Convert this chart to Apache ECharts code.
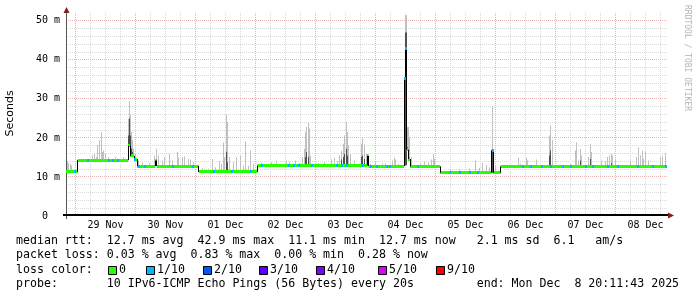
<!DOCTYPE html>
<html><head><meta charset="utf-8">
<script src="https://cdn.jsdelivr.net/npm/echarts@6/dist/echarts.min.js"></script>
<style>html,body{margin:0;padding:0;background:#fff}#c{width:697px;height:297px}</style>
</head><body><div id="c"></div>
<script>
// ---- data (hours measured from 29 Nov 00:00) ----
const startHour = -3.8, endHour = 236.2;
const dayLabels = ['29 Nov','30 Nov','01 Dec','02 Dec','03 Dec','04 Dec','05 Dec','06 Dec','07 Dec','08 Dec'];
const dayNoonHours = [12,36,60,84,108,132,156,180,204,228];
const yTickValues = [0,10,20,30,40,50];
const yTickLabels = ['0  ','10 m','20 m','30 m','40 m','50 m'];

// median rtt (ms) as steps: [start hour, value]
const medianSteps = [
 [-3.8,11.3],[0.9,14.3],[21.0,18.0],[21.8,15.4],[23.4,14.6],[24.6,12.8],
 [31.9,14.2],[32.5,12.8],[49.3,11.3],[72.7,12.9],[116.6,15.4],[117.2,12.8],
 [131.4,35.3],[131.8,42.9],[132.4,17.0],[133.0,14.6],[133.8,12.7],
 [145.8,11.1],[166.4,16.8],[167.0,11.1],[170.1,12.7]
];
// packet loss marks: [hour, lost pings out of 10]
const lossMarks = [
 [-0.4,1],[4.7,1],[13.0,1],[14.7,1],[16.7,1],[23.6,1],[25.1,1],[27.4,1],[38.7,1],[46.7,1],[55.0,1],
 [62.4,1],[69.8,1],[74.2,1],[85.1,1],[87.1,1],[89.1,1],[94.4,1],[104.4,1],[106.2,1],[108.4,1],
 [114.7,1],[117.8,1],[120.4,1],[124.2,1],[125.5,1],[131.5,1],[132.0,1],[136.8,1],[149.5,1],
 [153.5,1],[157.5,1],[160.8,1],[166.6,1],[178.8,1],[181.9,1],[186.2,1],[189.9,1],[194.8,1],
 [197.9,1],[203.9,1],[206.6,1],[212.6,1],[216.6,1],[224.6,1],[230.6,1],[235.8,1]
];
// smoke: [hour, highest ping ms, dense-smoke top ms (0 = none), lowest ping ms (optional)]
const smoke = [
 [-3.3,14.0,0],[-2.9,13.6,0],[-2.2,13.4,0],[-1.7,13.0,0],
 [6.7,15.5,0],[7.6,15.9,0],[8.3,15.1,0],[8.9,18.1,0],[9.6,19.4,0],[10.4,21.5,0],[10.9,16.4,0],[11.3,16.8,0],[12.0,15.9,0],[13.3,15.1,0],[16.0,15.1,0],[19.3,15.1,0],
 [21.1,24.9,20.6],[21.5,29.4,24.9],[21.9,25.8,20.6],[22.3,21.5,17.2],[22.7,19.4,16.4],[23.3,17.2,15.1],[24.0,15.9,0],[25.1,14.2,0],[26.7,13.6,0],[29.6,13.6,0],
 [31.7,15.5,0],[32.4,17.2,14.5],[33.1,15.5,0],[34.7,14.2,0],[35.7,15.1,0],[37.6,15.9,0],[38.7,14.2,0],[40.7,16.4,0],[41.3,14.9,0],[42.7,15.1,0],[43.7,15.3,0],[45.1,14.6,0],[46.0,14.5,0],[47.3,13.8,0],
 [50.9,12.3,0],[53.3,12.1,0],[54.7,14.6,0],[56.0,12.5,0],[57.6,14.0,0],[58.4,13.4,0],
 [59.1,18.8,0],[59.7,15.1,0],[60.3,25.9,16.4],[60.8,24.1,13.8],[61.5,15.1,0],[63.1,13.8,0],[64.4,15.1,0],[66.1,15.5,0],[67.1,12.9,0],[68.1,19.1,0],[69.1,12.9,0],[70.0,16.8,0],[71.1,13.4,0],
 [74.4,13.6,0],[78.4,13.8,0],[80.4,14.2,0],[84.4,14.2,0],[85.7,13.8,0],[88.0,14.2,0],[89.7,13.6,0],[90.7,15.1,0],[91.5,17.2,0],[92.0,21.5,15.1],[92.5,22.8,16.4],[93.1,23.9,15.1],[93.6,22.4,0],[94.1,15.5,0],
 [97.1,13.6,0],[99.7,13.8,0],[102.4,14.5,0],[103.7,14.9,0],[104.8,14.0,0],[105.7,15.5,0],[106.4,16.8,14.5],[107.2,18.5,15.1],[107.7,20.6,15.9],[108.3,24.2,17.2],[108.8,21.5,15.5],[109.3,18.1,0],[110.1,15.9,0],[111.7,14.2,0],
 [114.4,18.5,15.1],[114.9,19.9,15.5],[115.5,18.3,14.6],[116.3,15.9,0],[118.1,13.4,0],[119.7,13.1,0],
 [120.1,14.0,0],[122.8,13.4,0],[124.1,13.6,0],[126.8,14.2,0],[127.5,14.9,0],[128.1,14.5,0],[129.1,13.4,0],
 [131.5,35.3,35.3,13.0],[131.9,51.4,47.0,13.0],[132.3,51.4,47.0,13.0],[132.7,22.8,17.6],[133.1,22.8,16.4],[133.5,20.2,14.2],[134.4,15.1,0],
 [138.1,13.6,0],[139.5,14.0,0],[141.2,13.8,0],[142.4,14.5,0],[143.2,15.9,0],[143.7,14.6,0],
 [150.1,12.1,0],[153.5,11.9,0],[157.5,12.1,0],[159.9,14.2,0],[161.5,12.3,0],[162.8,13.6,0],[164.5,13.1,0],[165.5,12.5,0],
 [166.6,28.1,16.8,11.1],[168.1,12.9,0],[172.8,13.1,0],[177.1,14.9,0],[178.1,13.4,0],
 [180.3,14.9,0],[180.8,14.2,0],[184.5,14.5,0],[189.6,20.6,15.5],[190.1,23.2,16.8],[190.7,19.4,0],[193.9,13.1,0],[197.9,13.3,0],[199.9,16.8,0],[200.4,18.9,0],[201.2,14.2,0],[202.1,17.2,14.2],[202.5,15.5,0],
 [205.2,15.1,0],[205.9,18.5,14.6],[206.4,16.4,0],[208.5,13.1,0],[210.5,14.2,0],[211.9,14.0,0],[212.8,15.1,0],[213.6,15.5,0],[214.4,15.9,13.5],[214.9,15.5,0],[215.9,14.5,0],[217.9,12.9,0],
 [221.9,14.2,0],[224.5,15.1,0],[225.2,17.6,0],[225.9,15.5,0],[226.7,16.8,0],[227.2,14.6,0],[227.9,16.6,0],[229.2,14.2,0],[233.9,15.1,0],[234.9,15.3,0],[235.8,16.1,0]
];
const lossLegendLabels = ['0','1/10','2/10','3/10','4/10','5/10','9/10'];
const lossLegendKeys = [0,1,2,3,4,5,9];
const legendLines = [
 'median rtt:  12.7 ms avg  42.9 ms max  11.1 ms min  12.7 ms now   2.1 ms sd  6.1   am/s',
 'packet loss: 0.03 % avg  0.83 % max  0.00 % min  0.28 % now',
 'loss color:',
 'probe:       10 IPv6-ICMP Echo Pings (56 Bytes) every 20s         end: Mon Dec  8 20:11:43 2025'
];

// ---- styles ----
const lossColors = {0:'#26ff00',1:'#00b8ff',2:'#0059ff',3:'#5e00ff',4:'#7e00ff',5:'#dd00ff',9:'#ff0000'};
const MAJOR = '#eab4b4', MINOR = '#dadada';
const SMOKE_LIGHT = '#c0c0c0', SMOKE_DARK = '#505050';
const MONO = '"DejaVu Sans Mono", monospace';

function medianAt(h) {
  let v = medianSteps[0][1];
  for (const s of medianSteps) { if (s[0] <= h) v = s[1]; else break; }
  return v;
}

function renderGrid(params, api) {
  const ch = [];
  const top = api.coord([startHour, 52])[1], bottom = api.coord([startHour, 0])[1];
  const left = api.coord([startHour, 0])[0], right = api.coord([endHour, 0])[0];
  for (let h = 0; h <= endHour; h += 6) {
    const x = Math.floor(api.coord([h, 0])[0]) + 0.5;
    const major = h % 24 === 0;
    ch.push({type:'line', z2: major ? 2 : 1, shape:{x1:x, y1:top, x2:x, y2:bottom},
      style:{stroke: major ? MAJOR : MINOR, lineWidth:1, lineDash:[1,1]}});
  }
  for (let v = 2; v <= 50; v += 2) {
    const y = Math.floor(api.coord([0, v])[1]) + 0.5;
    const major = v % 10 === 0;
    ch.push({type:'line', z2: major ? 2 : 1, shape:{x1:left, y1:y, x2:right + 2, y2:y},
      style:{stroke: major ? MAJOR : MINOR, lineWidth:1, lineDash:[1,1]}});
  }
  // axis lines
  const xa = Math.floor(left) + 0.5;
  ch.push({type:'line', z2:5, shape:{x1:xa, y1:top - 1, x2:xa, y2:bottom + 3}, style:{stroke:'#555', lineWidth:1}});
  ch.push({type:'line', z2:5, shape:{x1:left - 3, y1:Math.round(bottom) - 1, x2:right + 2, y2:Math.round(bottom) - 1}, style:{stroke:'#000', lineWidth:2}});
  return {type:'group', children: ch};
}

function renderSmoke(params, api) {
  const it = smoke[params.dataIndex];
  const h = it[0], top = it[1], dark = it[2];
  const low = it.length > 3 ? it[3] : medianAt(h);
  const pLow = api.coord([h, low]);
  const x = Math.floor(pLow[0]);
  const w = Math.max(1, Math.round(api.size([0.4, 0])[0]));
  const yTop = api.coord([h, top])[1];
  const ch = [{type:'rect', shape:{x:x, y:yTop, width:w, height:pLow[1] - yTop}, style:{fill:SMOKE_LIGHT}}];
  if (dark > low) {
    const yD = api.coord([h, dark])[1];
    ch.push({type:'rect', shape:{x:x, y:yD, width:w, height:pLow[1] - yD}, style:{fill:SMOKE_DARK}});
  }
  return {type:'group', children: ch};
}

function renderMedian(params, api) {
  const i = params.dataIndex;
  const h = medianSteps[i][0], v = medianSteps[i][1];
  const hEnd = i + 1 < medianSteps.length ? medianSteps[i + 1][0] : endHour;
  const p0 = api.coord([h, v]), p1 = api.coord([hEnd, v]);
  const yc = Math.round(p0[1] - 1.5);
  const ch = [{type:'rect', shape:{x:p0[0], y:yc, width:p1[0] - p0[0], height:3}, style:{fill:lossColors[0]}}];
  if (i > 0) {
    const pv = api.coord([h, medianSteps[i - 1][1]]);
    const x = Math.floor(p0[0]) + 0.5;
    ch.push({type:'line', shape:{x1:x, y1:pv[1], x2:x, y2:p0[1]}, style:{stroke:'#000', lineWidth:1}});
  }
  return {type:'group', children: ch};
}

function renderLoss(params, api) {
  const it = lossMarks[params.dataIndex];
  const p = api.coord([it[0], medianAt(it[0])]);
  const w = Math.max(1, Math.round(api.size([0.8, 0])[0]));
  return {type:'rect', shape:{x:Math.floor(p[0]), y:Math.round(p[1] - 1.5), width:w, height:3},
    style:{fill: lossColors[it[1]]}};
}

// ---- graphic (legend, title, arrows) ----
const graphics = [];
graphics.push({type:'text', x:10.5, y:113.5, rotation:Math.PI/2,
  style:{text:'Seconds', font:'11px "DejaVu Sans", sans-serif', fill:'#000', align:'center', verticalAlign:'middle'}});
graphics.push({type:'text', x:687.5, y:5, rotation:-Math.PI/2,
  style:{text:'RRDTOOL / TOBI OETIKER', font:'8px ' + MONO, fill:'#b4b4b4', align:'left', verticalAlign:'middle'}});
graphics.push({type:'polygon', shape:{points:[[66.5,7],[63.5,13],[69.5,13]]}, style:{fill:'#8b1a1a'}});
graphics.push({type:'polygon', shape:{points:[[674,215.5],[668,212.5],[668,218.5]]}, style:{fill:'#8b1a1a'}});
const lineY = [241, 255, 269.5, 283.5];
legendLines.forEach((t, i) => {
  graphics.push({type:'text', x:16, y:lineY[i], style:{text:t, font:'11.6px ' + MONO, fill:'#000', align:'left', verticalAlign:'middle'}});
});
const boxX = [108, 146, 203, 259, 316, 378, 436];
lossLegendKeys.forEach((k, i) => {
  graphics.push({type:'rect', shape:{x:boxX[i] + 0.5, y:266.5, width:8, height:8}, style:{fill:lossColors[k], stroke:'#000', lineWidth:1}});
  graphics.push({type:'text', x:boxX[i] + 11, y:lineY[2], style:{text:lossLegendLabels[i], font:'11.6px ' + MONO, fill:'#000', align:'left', verticalAlign:'middle'}});
});

const chart = echarts.init(document.getElementById('c'), null, {renderer:'canvas'});
chart.setOption({
  animation:false,
  backgroundColor:'#fff',
  grid:{left:66, right:31, top:13, bottom:81},
  xAxis:{type:'value', min:startHour, max:endHour,
    axisLine:{show:false}, axisTick:{show:false}, splitLine:{show:false},
    axisLabel:{customValues: dayNoonHours,
      formatter: v => { const i = dayNoonHours.indexOf(v); return i < 0 ? '' : dayLabels[i]; },
      fontFamily:MONO, fontSize:10, color:'#000', margin:4}},
  yAxis:{type:'value', min:0, max:52, interval:10,
    axisLine:{show:false}, axisTick:{show:false}, splitLine:{show:false},
    axisLabel:{customValues: yTickValues,
      formatter: v => { const i = yTickValues.indexOf(v); return i < 0 ? '' : yTickLabels[i]; },
      fontFamily:MONO, fontSize:10, color:'#000', margin:6}},
  series:[
    {type:'custom', name:'grid', z:1, silent:true, renderItem:renderGrid, data:[[0,0]], encode:{x:0,y:1}},
    {type:'custom', name:'smoke', z:2, silent:true, renderItem:renderSmoke, data:smoke.map(s => [s[0], s[1]]), encode:{x:0,y:1}},
    {type:'custom', name:'median', z:3, silent:true, renderItem:renderMedian, data:medianSteps, encode:{x:0,y:1}},
    {type:'custom', name:'loss', z:4, silent:true, renderItem:renderLoss, data:lossMarks.map(l => [l[0], medianAt(l[0])]), encode:{x:0,y:1}}
  ],
  graphic:graphics
});
</script></body></html>
